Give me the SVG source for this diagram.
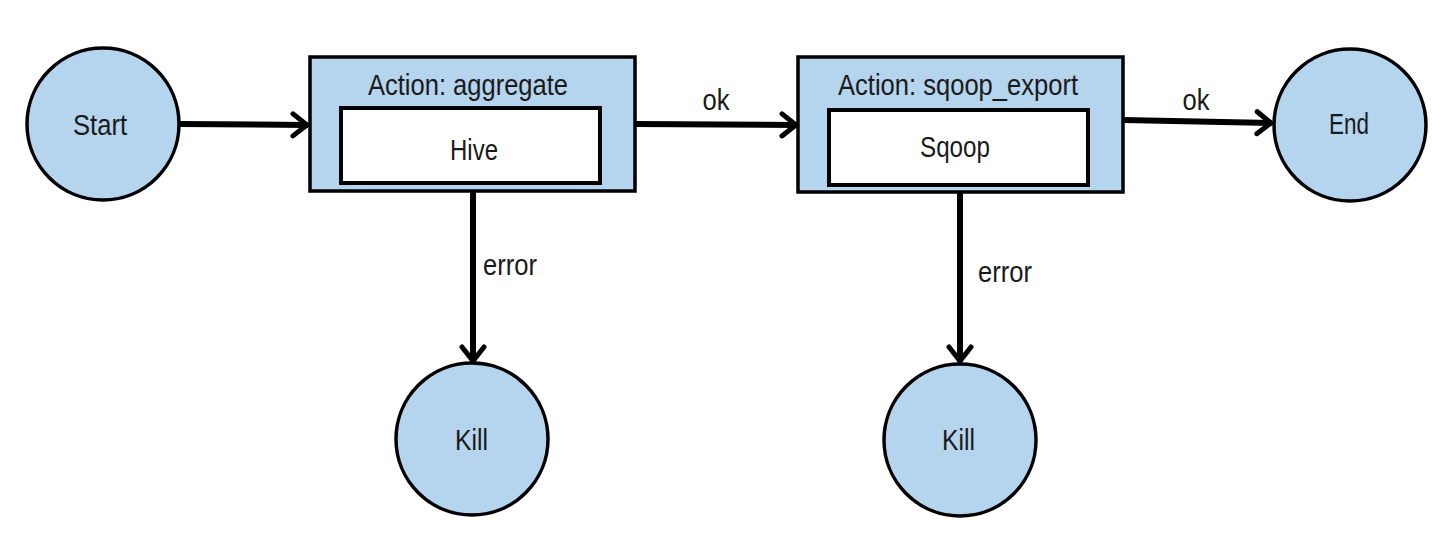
<svg xmlns="http://www.w3.org/2000/svg" width="1450" height="534" viewBox="0 0 1450 534">
<style>
.node{fill:#b5d4ee;stroke:#000;stroke-width:3.5}
.inner{fill:#fff;stroke:#000;stroke-width:4}
.lbl{font-family:"Liberation Sans","Arial",sans-serif;font-size:30px;fill:#1a1a1a;text-anchor:middle}
.edge{stroke:#000;stroke-width:6;fill:none}
</style>
<defs>
<marker id="arr" markerUnits="userSpaceOnUse" markerWidth="30" markerHeight="30" viewBox="0 0 30 30" refX="27" refY="15" orient="auto">
<path d="M12,4 L26,15 L12,26" fill="none" stroke="#000" stroke-width="5" stroke-linecap="round" stroke-linejoin="miter"/>
</marker>
</defs>
<rect width="1450" height="534" fill="#fff"/>
<g id="connectors">
<line class="edge" x1="180" y1="124" x2="308" y2="125" marker-end="url(#arr)"/>
<line class="edge" x1="635" y1="124" x2="797" y2="125" marker-end="url(#arr)"/>
<text class="lbl" x="716" y="110" textLength="27" lengthAdjust="spacingAndGlyphs">ok</text>
<line class="edge" x1="1123" y1="120" x2="1272" y2="123" marker-end="url(#arr)"/>
<text class="lbl" x="1196" y="110" textLength="27" lengthAdjust="spacingAndGlyphs">ok</text>
<line class="edge" x1="473" y1="190" x2="473" y2="362" marker-end="url(#arr)"/>
<text class="lbl" x="510" y="275" textLength="54" lengthAdjust="spacingAndGlyphs">error</text>
<line class="edge" x1="960" y1="192" x2="960" y2="362" marker-end="url(#arr)"/>
<text class="lbl" x="1005" y="282" textLength="54" lengthAdjust="spacingAndGlyphs">error</text>
</g>
<g id="start">
<circle class="node" cx="103" cy="124" r="76"/>
<text class="lbl" x="100" y="135" textLength="54" lengthAdjust="spacingAndGlyphs">Start</text>
</g>
<g id="aggregate">
<rect class="node" x="310" y="57" width="325" height="134"/>
<text class="lbl" x="468" y="95" textLength="200" lengthAdjust="spacingAndGlyphs">Action: aggregate</text>
<rect class="inner" x="341" y="108" width="259" height="75"/>
<text class="lbl" x="474" y="160" textLength="48" lengthAdjust="spacingAndGlyphs">Hive</text>
</g>
<g id="sqoop_export">
<rect class="node" x="798" y="57" width="325" height="135"/>
<text class="lbl" x="958" y="95" textLength="240" lengthAdjust="spacingAndGlyphs">Action: sqoop_export</text>
<rect class="inner" x="829" y="110" width="259" height="75"/>
<text class="lbl" x="955" y="157" textLength="70" lengthAdjust="spacingAndGlyphs">Sqoop</text>
</g>
<g id="end">
<circle class="node" cx="1350" cy="125" r="76"/>
<text class="lbl" x="1349" y="134" textLength="40" lengthAdjust="spacingAndGlyphs">End</text>
</g>
<g id="kill1">
<circle class="node" cx="472" cy="439" r="76"/>
<text class="lbl" x="471.5" y="450" textLength="33" lengthAdjust="spacingAndGlyphs">Kill</text>
</g>
<g id="kill2">
<circle class="node" cx="960" cy="440" r="76"/>
<text class="lbl" x="958.5" y="450" textLength="33" lengthAdjust="spacingAndGlyphs">Kill</text>
</g>
</svg>
